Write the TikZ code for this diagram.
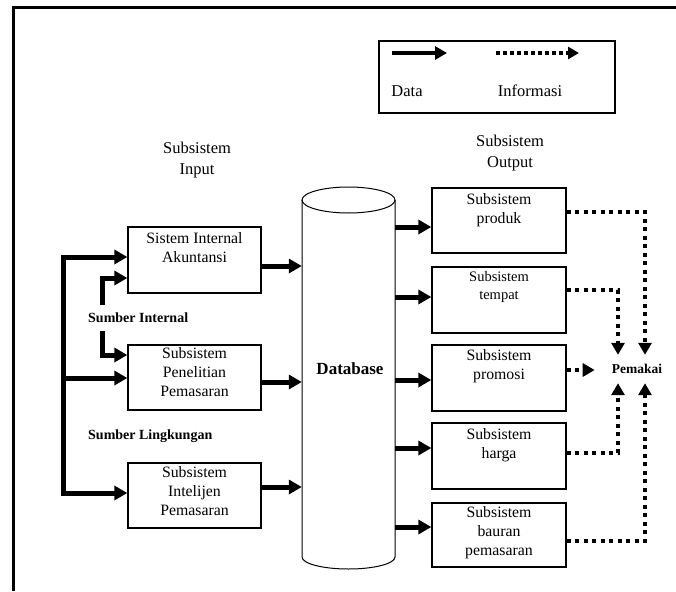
\documentclass[tikz,border=0pt]{standalone}
\usepackage{fontspec}
\setmainfont{Liberation Serif}
\usetikzlibrary{arrows.meta}
\begin{document}
\begin{tikzpicture}[x=1pt,y=-1pt,
  box/.style={draw, line width=1.3pt, minimum width=133pt, minimum height=66pt, inner sep=0pt},
  boxtxt/.style={align=center, anchor=north, inner sep=0pt, font=\fontsize{15.8}{19}\selectfont},
  data/.style={line width=5pt, -{Triangle[length=13pt,width=14pt]}},
  info/.style={line width=4pt, dash pattern=on 4pt off 4.5pt, -{Triangle[length=12pt,width=13pt]}},
  bold/.style={font=\bfseries\fontsize{14}{17}\selectfont, inner sep=0pt},
  plain/.style={font=\fontsize{16.5}{21}\selectfont, align=center, inner sep=0pt}]
\useasboundingbox (0,0) rectangle (676,591);
\fill[white] (0,0) rectangle (676,591);
% frame
\draw[line width=3pt] (13,591) -- (13,7.5) -- (676,7.5);

% legend
\node[draw, line width=1.3pt, minimum width=236pt, minimum height=72pt, inner sep=0pt] (leg) at (497,77) {};
\coordinate (ld1) at (392,53); \coordinate (ld2) at (447,53);
\coordinate (li1) at (496,53); \coordinate (li2) at (579,53);
\draw[line width=4.5pt, -{Triangle[length=12pt,width=13pt]}] (ld1) -- (ld2);
\draw[line width=3.5pt, dash pattern=on 3.5pt off 3.5pt, -{Triangle[length=11pt,width=12pt]}] (li1) -- (li2);
\node[plain] (ldata) at (407,91) {Data};
\node[plain] (linfo) at (530,91) {Informasi};

% headings
\node[plain] (hin) at (197,160) {Subsistem\\Input};
\node[plain] (hout) at (510,153) {Subsistem\\Output};

% cylinder (database)
\node[minimum width=93pt, minimum height=357pt, inner sep=0pt] (cyl) at (348.5,378.5) {};
\draw[line width=1pt] (348.5,200) ellipse [x radius=46.5pt, y radius=13pt];
\draw[line width=1pt] (302,200) -- (302,557) arc[start angle=180, end angle=360, x radius=46.5pt, y radius=12pt] -- (395,200);
\node[font=\bfseries\fontsize{17}{20}\selectfont, inner sep=0pt] (db) at (350,369) {Database};

% input boxes
\node[box] (akun) at (194.5,260) {};
\node[boxtxt] at ([yshift=-6pt]akun.north) {Sistem Internal\\Akuntansi};
\node[box, minimum height=65pt] (pen) at (194.5,377.5) {};
\node[boxtxt] at ([yshift=-3pt]pen.north) {Subsistem\\Penelitian\\Pemasaran};
\node[box, minimum height=65pt] (intel) at (194.5,495.5) {};
\node[boxtxt] at ([yshift=-4pt]intel.north) {Subsistem\\Intelijen\\Pemasaran};

% source labels
\node[bold, anchor=west] (si) at (88,318) {Sumber Internal};
\node[bold, anchor=west] (sl) at (88,436) {Sumber Lingkungan};

% trunk from environment
\coordinate (t1) at (63,257);
\coordinate (t2) at (63,378);
\coordinate (t3) at (63,493);
\draw[data] (t2) -- (t1) -- (t1 -| akun.west);
\draw[data] (t2) -- (t3) -- (t3 -| intel.west);
\draw[data] (t2) -- (t2 -| pen.west);

% internal branches
\coordinate (i0) at (102,305);
\coordinate (i1) at (102,278);
\coordinate (j0) at (102,331);
\coordinate (j1) at (102,355);
\draw[data] (i0) -- (i1) -- (i1 -| akun.west);
\draw[data] (j0) -- (j1) -- (j1 -| pen.west);

% input to database
\draw[data] ([yshift=-6pt]akun.east) coordinate (a1) -- (a1 -| cyl.west);
\draw[data] ([yshift=-4.5pt]pen.east) coordinate (a2) -- (a2 -| cyl.west);
\draw[data] ([yshift=8.5pt]intel.east) coordinate (a3) -- (a3 -| cyl.west);

% output boxes
\node[box, minimum width=134pt, minimum height=65pt] (produk) at (499,220.5) {};
\node[boxtxt] at ([yshift=-6pt]produk.north) {Subsistem\\produk};
\node[box, minimum width=134pt] (tempat) at (499,300) {};
\node[boxtxt, font=\fontsize{14.5}{18}\selectfont] at ([yshift=-5pt]tempat.north) {Subsistem\\tempat};
\node[box, minimum width=134pt] (promosi) at (499,378) {};
\node[boxtxt] at ([yshift=-5pt]promosi.north) {Subsistem\\promosi};
\node[box, minimum width=134pt] (harga) at (499,456) {};
\node[boxtxt] at ([yshift=-6pt]harga.north) {Subsistem\\harga};
\node[box, minimum width=134pt, minimum height=64pt] (bauran) at (499,535) {};
\node[boxtxt] at ([yshift=-4pt]bauran.north) {Subsistem\\bauran\\pemasaran};

% database to output
\path ([yshift=-6.5pt]produk.west) coordinate (b1);
\path ([yshift=3pt]tempat.west) coordinate (b2);
\path ([yshift=-2pt]promosi.west) coordinate (b3);
\path ([yshift=8pt]harga.west) coordinate (b4);
\path ([yshift=8pt]bauran.west) coordinate (b5);
\draw[data] (b1 -| cyl.east) -- (b1);
\draw[data] (b2 -| cyl.east) -- (b2);
\draw[data] (b3 -| cyl.east) -- (b3);
\draw[data] (b4 -| cyl.east) -- (b4);
\draw[data] (b5 -| cyl.east) -- (b5);

% user
\node[font=\bfseries\fontsize{13.5}{16}\selectfont, inner sep=0pt, minimum height=28pt] (pem) at (637,369) {Pemakai};
\coordinate (c1) at (645,0);
\coordinate (c2) at (618,0);
\coordinate (pw) at ([xshift=-17pt]pem.west);

\draw[info] ([yshift=8.5pt]produk.east) -| (c1 |- pem.north);
\draw[info] ([yshift=10pt]tempat.east) -| (c2 |- pem.north);
\draw[info] ([yshift=8pt]promosi.east) coordinate (pr) -- (pr -| pw);
\draw[info] ([yshift=3pt]harga.east) -| (c2 |- pem.south);
\draw[info] ([yshift=-6pt]bauran.east) -| (c1 |- pem.south);
\end{tikzpicture}
\end{document}
